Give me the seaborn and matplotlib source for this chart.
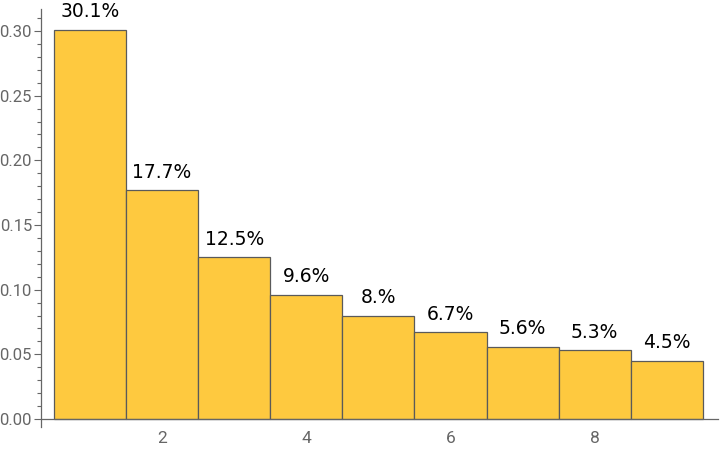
import matplotlib
matplotlib.use("Agg")
import matplotlib.pyplot as plt
import seaborn as sns
import pandas as pd
from matplotlib.ticker import MultipleLocator

# leading digit frequencies
digits = [1, 2, 3, 4, 5, 6, 7, 8, 9]
freqs = [0.301, 0.177, 0.125, 0.096, 0.080, 0.067, 0.056, 0.053, 0.045]
labels = ["30.1%", "17.7%", "12.5%", "9.6%", "8.%", "6.7%", "5.6%", "5.3%", "4.5%"]

df = pd.DataFrame({"digit": digits, "freq": freqs})

sns.set_style("white")
plt.rcParams["font.family"] = ["DejaVu Sans"]

fig = plt.figure(figsize=(7.2, 4.5), dpi=100)
ax = fig.add_axes([41 / 720, 23 / 450, 677 / 720, 418 / 450])

sns.histplot(data=df, x="digit", weights="freq", discrete=True, stat="count",
             color="#FEC93F", alpha=1, edgecolor="#5a5a5a", linewidth=0.9, ax=ax)

for d, f, lab in zip(digits, freqs, labels):
    ax.annotate(lab, (d, f), xytext=(0, 6), textcoords="offset points",
                ha="center", va="bottom", fontsize=13.5, color="black")

ax.set_xlim(0.32, 9.71)
ax.set_ylim(-0.0062, 0.317)
ax.set_xlabel("")
ax.set_ylabel("")

for s in ["top", "right"]:
    ax.spines[s].set_visible(False)
ax.spines["bottom"].set_position(("data", 0))
for s in ["left", "bottom"]:
    ax.spines[s].set_color("#666666")
    ax.spines[s].set_linewidth(0.9)

ax.xaxis.set_major_locator(MultipleLocator(2))
ax.xaxis.set_minor_locator(MultipleLocator(1))
ax.yaxis.set_major_locator(MultipleLocator(0.05))
ax.yaxis.set_minor_locator(MultipleLocator(0.01))
ax.yaxis.set_major_formatter(matplotlib.ticker.FormatStrFormatter("%.2f"))

ax.tick_params(axis="x", which="major", bottom=True, direction="in", length=7,
               width=0.8, color="#666666", labelcolor="#666666", labelsize=12.5, pad=9)
ax.tick_params(axis="x", which="minor", bottom=True, direction="in", length=4,
               width=0.8, color="#666666")
ax.tick_params(axis="y", which="major", left=True, direction="out", length=5,
               width=0.8, color="#666666", labelcolor="#666666", labelsize=12, pad=1.5)
ax.tick_params(axis="y", which="minor", left=True, direction="out", length=3,
               width=0.8, color="#666666")
for t in ax.get_xticklabels() + ax.get_yticklabels():
    t.set_fontfamily("Roboto")

fig.savefig("out.png", dpi=100)
